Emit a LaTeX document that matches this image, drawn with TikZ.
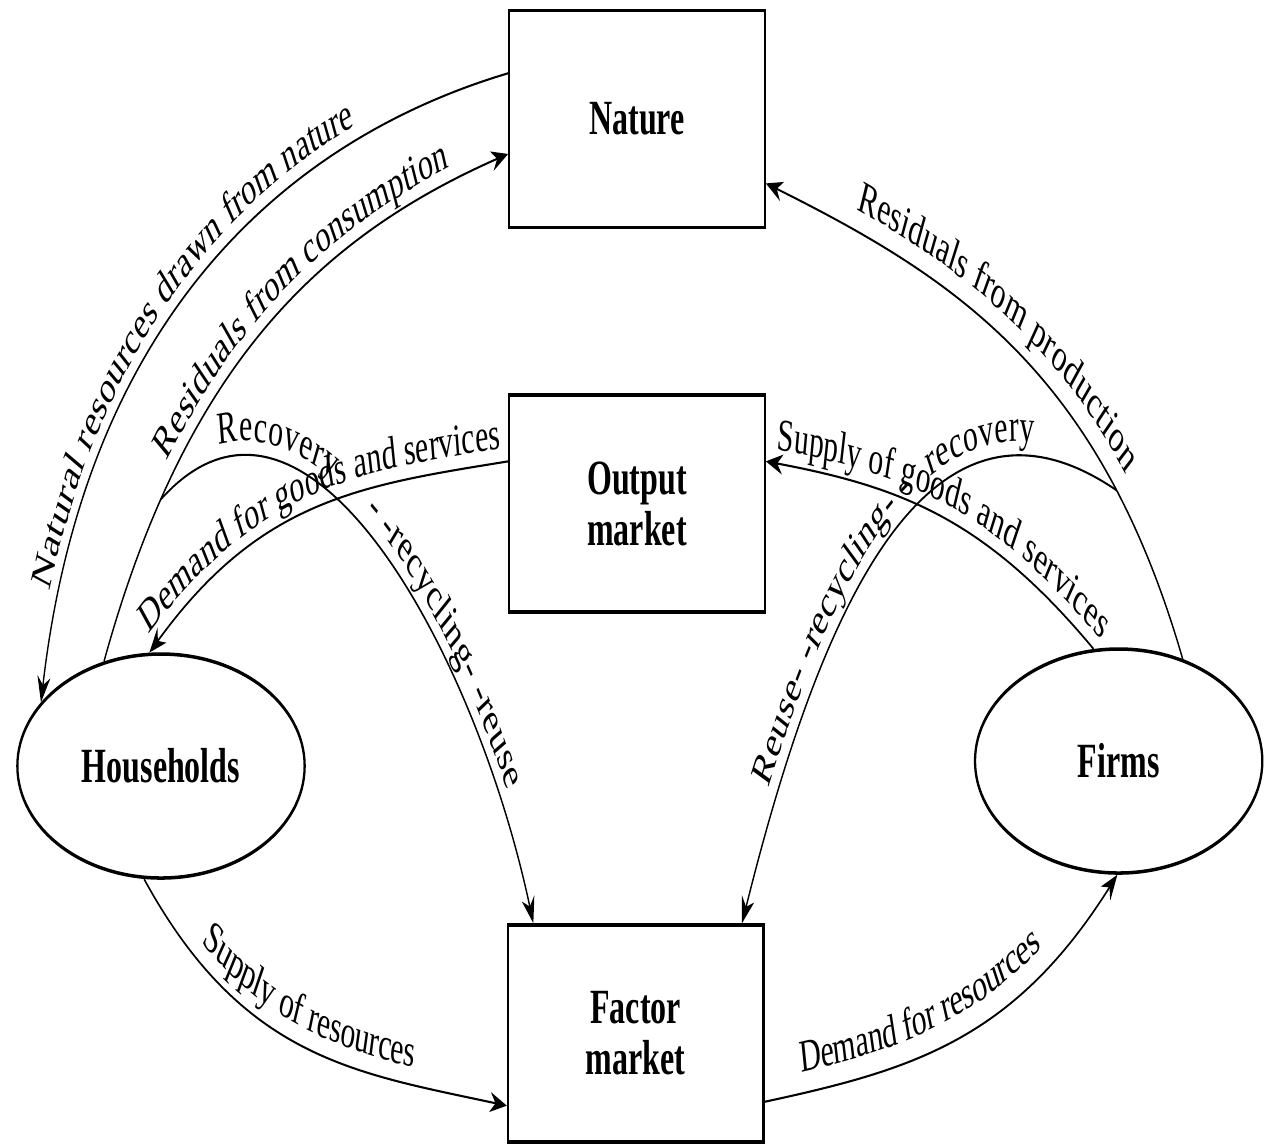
\documentclass[tikz,border=0pt]{standalone}
\usepackage{fontspec}
\setmainfont{Liberation Serif}
\usetikzlibrary{arrows.meta, decorations.text, shapes.geometric}
\newcommand{\flowfont}{\fontsize{13}{15}\selectfont}
\tikzset{
  every node/.style={font=\fontsize{14}{14.5}\selectfont\bfseries},
  mkt/.style   = {rectangle, draw, line width=1pt, minimum width=3.93cm,
                  minimum height=2.17cm, inner sep=0pt, align=center},
  agent/.style = {ellipse, draw, line width=1pt, minimum width=4.42cm,
                  minimum height=2.24cm, inner sep=0pt},
  flow/.style  = {-{Stealth[length=2.6mm,width=2mm]}, line width=0.6pt},
  back/.style  = {{Stealth[length=2.6mm,width=2mm]}-, line width=0.6pt},
  lab/.style 2 args = {postaction={decorate,
                  decoration={text along path, #1, text={|\flowfont|#2}}}},
}

\begin{document}
\begin{tikzpicture}
  \useasboundingbox (0,0) rectangle (12.68,-11.45);
  \begin{scope}[transform canvas={xscale=0.65}]
  % ---- nature and the two markets ----
  \node[mkt] (nature) at (9.80,-1.19)   {Nature};
  \node[mkt] (out)    at (9.80,-5.035)  {Output\\market};
  \node[mkt] (fac)    at (9.78,-10.335) {Factor\\market};

  % ---- households and firms ----
  \node[agent] (hh)    at (2.477,-7.66) {Households};
  \node[agent] (firms) at (17.21,-7.61) {Firms};

  % ---- flows to and from nature ----
  \draw[back, lab={raise=4pt, text align={left indent=1.1cm}}{Natural resources drawn from nature}]
    (hh.161) to[out=80,in=191] (nature.167);
  \draw[flow, lab={raise=4pt, text align={left indent=2.2cm}}{Residuals from consumption}]
    (hh.130) to[out=67,in=196] coordinate[pos=0.21] (rc) (nature.190);
  \draw[back, lab={raise=6pt, text align={left indent=1.4cm}}{Residuals from production}]
    (nature.-18) to[out=-18,in=114] coordinate[pos=0.77] (pc) (firms.46);

  % ---- output market ----
  \draw[back, lab={raise=4pt, text align=center}{Demand for goods and services}]
    (hh.99) to[out=42,in=186] (out.168);
  \draw[back, lab={raise=4pt, text align={left indent=0.15cm}}{Supply of goods and services}]
    (out.12) to[out=-7,in=142] (firms.109);

  % ---- recovery loops ----
  \draw[flow, lab={raise=4pt, text align={left indent=1.0cm}}{Recovery{\hspace{0.58cm}}- -recycling- -reuse}]
    (rc) to[out=36,in=108] (fac.145);
  \draw[back, lab={raise=4pt, text align={left indent=1.4cm}}{Reuse- -recycling- -{\hspace{0.3cm}}recovery}]
    (fac.34) to[out=69,in=156,looseness=1.15] (pc);

  % ---- factor market ----
  \draw[flow, lab={raise=5pt, text align={left indent=1.1cm}}{Supply of resources}]
    (hh.257) to[out=-50,in=172] (fac.200);
  \draw[flow, lab={raise=6pt, text align={left indent=0.6cm}}{Demand for resources}]
    (fac.-19) to[out=8,in=226] (firms.-91);
  \end{scope}
\end{tikzpicture}
\end{document}
